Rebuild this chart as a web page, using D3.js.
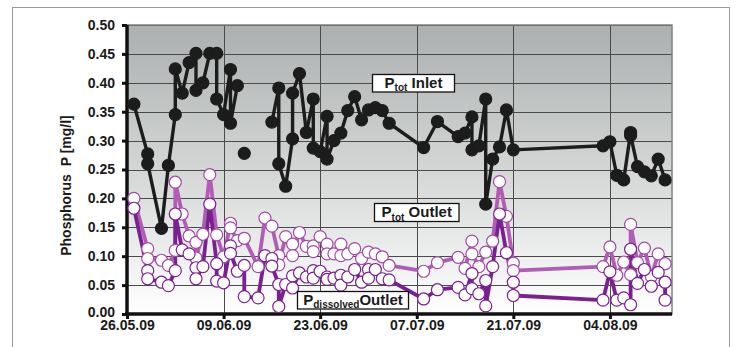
<!DOCTYPE html>
<html><head><meta charset="utf-8">
<script src="https://cdn.jsdelivr.net/npm/d3@7/dist/d3.min.js"></script>
<style>
body{margin:0;background:#fff;}
svg{display:block;font-family:"Liberation Sans",Arial,sans-serif;}
</style></head>
<body><svg id="c" width="737" height="347"></svg>
<script>
// ---------- data ----------
const inletDates = ["2009-05-27","2009-05-29","2009-05-29","2009-05-31","2009-06-01","2009-06-02","2009-06-02","2009-06-03","2009-06-04","2009-06-05","2009-06-05","2009-06-06","2009-06-07","2009-06-08","2009-06-08","2009-06-09","2009-06-10","2009-06-10","2009-06-11","2009-06-11","2009-06-12","2009-06-12","2009-06-16","2009-06-17","2009-06-17","2009-06-18","2009-06-19","2009-06-19","2009-06-20","2009-06-21","2009-06-22","2009-06-22","2009-06-23","2009-06-24","2009-06-24","2009-06-25","2009-06-26","2009-06-27","2009-06-28","2009-06-29","2009-06-30","2009-07-01","2009-07-02","2009-07-03","2009-07-08","2009-07-10","2009-07-13","2009-07-14","2009-07-15","2009-07-15","2009-07-16","2009-07-17","2009-07-17","2009-07-18","2009-07-19","2009-07-20","2009-07-21","2009-08-03","2009-08-04","2009-08-05","2009-08-06","2009-08-07","2009-08-07","2009-08-08","2009-08-09","2009-08-10","2009-08-11","2009-08-12"];
const inletValues = [0.363,0.277,0.260,0.148,0.257,0.345,0.424,0.382,0.435,0.451,0.387,0.400,0.451,0.451,0.372,0.345,0.423,0.330,0.395,null,0.278,null,0.332,0.391,0.260,0.221,0.303,0.382,0.416,0.314,0.372,0.287,0.281,0.342,0.268,0.300,0.313,0.352,0.376,0.336,0.353,0.357,0.352,0.330,0.288,0.333,0.307,0.313,0.341,0.284,0.291,0.372,0.190,0.268,0.289,0.353,0.284,0.291,0.298,0.240,0.232,0.314,0.309,0.255,0.246,0.239,0.268,0.232];

const ptotOutDates = ["2009-05-27","2009-05-29","2009-05-29","2009-05-31","2009-06-01","2009-06-02","2009-06-02","2009-06-03","2009-06-04","2009-06-05","2009-06-05","2009-06-06","2009-06-07","2009-06-08","2009-06-09","2009-06-10","2009-06-10","2009-06-11","2009-06-12","2009-06-14","2009-06-15","2009-06-16","2009-06-17","2009-06-17","2009-06-18","2009-06-19","2009-06-19","2009-06-20","2009-06-21","2009-06-22","2009-06-22","2009-06-23","2009-06-24","2009-06-24","2009-06-25","2009-06-26","2009-06-26","2009-06-27","2009-06-28","2009-06-29","2009-06-30","2009-07-01","2009-07-02","2009-07-03","2009-07-08","2009-07-10","2009-07-13","2009-07-14","2009-07-15","2009-07-15","2009-07-16","2009-07-17","2009-07-18","2009-07-19","2009-07-20","2009-07-21","2009-07-21","2009-08-03","2009-08-04","2009-08-05","2009-08-06","2009-08-07","2009-08-07","2009-08-08","2009-08-09","2009-08-10","2009-08-11","2009-08-12"];
const ptotOutValues = [0.200,0.113,0.096,0.093,0.084,0.110,0.228,0.173,0.135,0.124,0.097,0.138,0.241,0.137,0.099,0.157,0.149,0.127,0.131,0.082,0.166,0.152,0.101,0.085,0.134,0.121,0.101,0.141,0.117,0.118,0.108,0.134,0.121,0.104,0.104,0.121,0.101,0.104,0.113,0.096,0.107,0.104,0.099,0.084,0.074,0.089,0.098,0.079,0.126,0.104,0.082,0.107,0.126,0.229,0.169,0.088,0.075,0.082,0.116,0.067,0.090,0.068,0.155,0.089,0.114,0.065,0.104,0.087];

const pdisOutDates = ["2009-05-27","2009-05-29","2009-05-29","2009-05-31","2009-06-01","2009-06-02","2009-06-02","2009-06-03","2009-06-04","2009-06-05","2009-06-05","2009-06-06","2009-06-07","2009-06-08","2009-06-08","2009-06-09","2009-06-10","2009-06-10","2009-06-11","2009-06-12","2009-06-12","2009-06-14","2009-06-15","2009-06-16","2009-06-16","2009-06-17","2009-06-17","2009-06-18","2009-06-19","2009-06-19","2009-06-20","2009-06-21","2009-06-22","2009-06-22","2009-06-23","2009-06-24","2009-06-24","2009-06-25","2009-06-26","2009-06-26","2009-06-27","2009-06-28","2009-06-29","2009-06-30","2009-06-30","2009-07-01","2009-07-02","2009-07-03","2009-07-08","2009-07-10","2009-07-13","2009-07-14","2009-07-15","2009-07-15","2009-07-16","2009-07-17","2009-07-17","2009-07-18","2009-07-19","2009-07-20","2009-07-21","2009-07-21","2009-08-03","2009-08-04","2009-08-05","2009-08-06","2009-08-07","2009-08-07","2009-08-08","2009-08-09","2009-08-10","2009-08-11","2009-08-12","2009-08-12"];
const pdisOutValues = [0.183,0.075,0.061,0.055,0.049,0.075,0.173,0.111,0.104,0.080,0.061,0.082,0.190,0.087,0.057,0.054,0.118,0.105,0.074,0.084,0.030,0.028,0.101,0.096,0.083,0.051,0.013,0.051,0.066,0.045,0.071,0.064,0.075,0.062,0.074,0.064,0.060,0.062,0.067,0.050,0.064,0.077,0.055,0.077,0.062,0.077,0.061,0.059,0.026,0.042,0.046,0.033,0.070,0.044,0.035,0.058,0.014,0.082,0.173,0.106,0.055,0.032,0.024,0.073,0.024,0.028,0.016,0.112,0.053,0.077,0.048,0.072,0.055,0.024];

const xTickDates = ["2009-05-26","2009-06-09","2009-06-23","2009-07-07","2009-07-21","2009-08-04"];
const yTicks = [0,0.05,0.10,0.15,0.20,0.25,0.30,0.35,0.40,0.45,0.50];
const yTitle = "Phosphorus  P [mg/l]";

// ---------- layout ----------
const parse = d3.utcParse("%Y-%m-%d");
const L = 127, R = 672, T = 25, B = 314;
const svg = d3.select("#c");
const x = d3.scaleUtc().domain([parse("2009-05-26"), parse("2009-08-13")]).range([L, R]);
const y = d3.scaleLinear().domain([0, 0.5]).range([B, T]);

// outer frame
svg.append("rect").attr("x",12.5).attr("y",7.5).attr("width",717).attr("height",360)
  .attr("fill","#fff").attr("stroke","#9a9a9a").attr("stroke-width",1);

// gradient background
const defs = svg.append("defs");
const g = defs.append("linearGradient").attr("id","bg").attr("x1",0).attr("y1",0).attr("x2",0).attr("y2",1);
g.append("stop").attr("offset","0%").attr("stop-color","#acafaf");
g.append("stop").attr("offset","50%").attr("stop-color","#d4d6d6");
g.append("stop").attr("offset","100%").attr("stop-color","#ffffff");
svg.append("rect").attr("x",L).attr("y",T).attr("width",R-L).attr("height",B-T).attr("fill","url(#bg)");

// grid
const grid = svg.append("g").attr("stroke","#4a4a4a").attr("stroke-width",1);
grid.selectAll("line.h").data(yTicks.filter(v=>v>0)).join("line")
  .attr("x1",L).attr("x2",R).attr("y1",d=>Math.round(y(d))+0.5).attr("y2",d=>Math.round(y(d))+0.5);
grid.selectAll("line.v").data(xTickDates.slice(1).map(parse)).join("line")
  .attr("x1",d=>Math.round(x(d))+0.5).attr("x2",d=>Math.round(x(d))+0.5).attr("y1",T).attr("y2",B);
svg.append("rect").attr("x",L).attr("y",T).attr("width",R-L).attr("height",B-T)
  .attr("fill","none").attr("stroke","#808080").attr("stroke-width",1.5);

// axes
const yAxis = svg.append("g").attr("transform",`translate(${L},0)`)
  .call(d3.axisLeft(y).tickValues(yTicks).tickFormat(d3.format(".2f")).tickSize(5).tickPadding(7));
const xAxis = svg.append("g").attr("transform",`translate(0,${B})`)
  .call(d3.axisBottom(x).tickValues(xTickDates.map(parse)).tickFormat(d3.utcFormat("%d.%m.%y")).tickSize(5).tickPadding(1.5));
[yAxis,xAxis].forEach(a=>{
  a.select(".domain").attr("stroke","#111").attr("stroke-width",3.5);
  a.selectAll(".tick line").attr("stroke","#111").attr("stroke-width",3);
  a.selectAll("text").attr("fill","#1a1a1a").attr("font-size",14).attr("font-weight","bold")
   .attr("font-family","'Liberation Sans',Arial,sans-serif");
});
yAxis.selectAll(".tick").filter(d=>d===0).select("text").attr("dy","0.2em");
yAxis.select(".domain").attr("d",`M0,${T}V${B+2}`);
xAxis.select(".domain").attr("d",`M${L-2},0H${R}`);

svg.append("text").attr("transform",`translate(71,${(T+B)/2+16}) rotate(-90)`)
  .attr("text-anchor","middle").attr("font-size",14).attr("font-weight","bold").attr("fill","#1a1a1a")
  .attr("xml:space","preserve").style("white-space","pre").text(yTitle);

// series
function mk(dates, vals){ return dates.map((d,i)=>({d:parse(d), v:vals[i]})); }
const series = [
  {data: mk(ptotOutDates, ptotOutValues), line:"#b25db5", lw:3.8, r:6, fill:"#fff", stroke:"#a24aa6"},
  {data: mk(pdisOutDates, pdisOutValues), line:"#7a2090", lw:3.8, r:6, fill:"#fff", stroke:"#7a2090"},
  {data: mk(inletDates, inletValues), line:"#1c1c1c", lw:3.4, r:6, fill:"#1c1c1c", stroke:"#1c1c1c"}
];
const line = d3.line().defined(p=>p.v!=null).x(p=>x(p.d)).y(p=>y(p.v));
series.forEach(s=>{
  svg.append("path").datum(s.data).attr("d",line).attr("fill","none")
    .attr("stroke",s.line).attr("stroke-width",s.lw).attr("stroke-linejoin","round");
});
series.forEach(s=>{
  svg.append("g").selectAll("circle").data(s.data.filter(p=>p.v!=null)).join("circle")
    .attr("cx",p=>x(p.d)).attr("cy",p=>y(p.v)).attr("r",s.r)
    .attr("fill",s.fill).attr("stroke",s.stroke).attr("stroke-width",1.2);
});

// labels
function label(x0,y0,w,h,sub,rest){
  svg.append("rect").attr("x",x0).attr("y",y0).attr("width",w).attr("height",h)
    .attr("fill","#fff").attr("stroke","#111").attr("stroke-width",1.3);
  const t = svg.append("text").attr("x",x0+w/2).attr("y",y0+h-4.5).attr("text-anchor","middle")
    .attr("font-weight","bold").attr("fill","#1a1a1a").attr("font-size",15);
  t.append("tspan").text("P");
  t.append("tspan").attr("font-size",10).attr("dy",3.5).text(sub);
  t.append("tspan").attr("dy",-3.5).text(rest);
}
label(372.5,74.5,82,17.5,"tot"," Inlet");
label(374.5,203.5,84.5,18,"tot"," Outlet");
label(297.5,291.5,111,17.5,"dissolved","Outlet");
</script></body></html>
